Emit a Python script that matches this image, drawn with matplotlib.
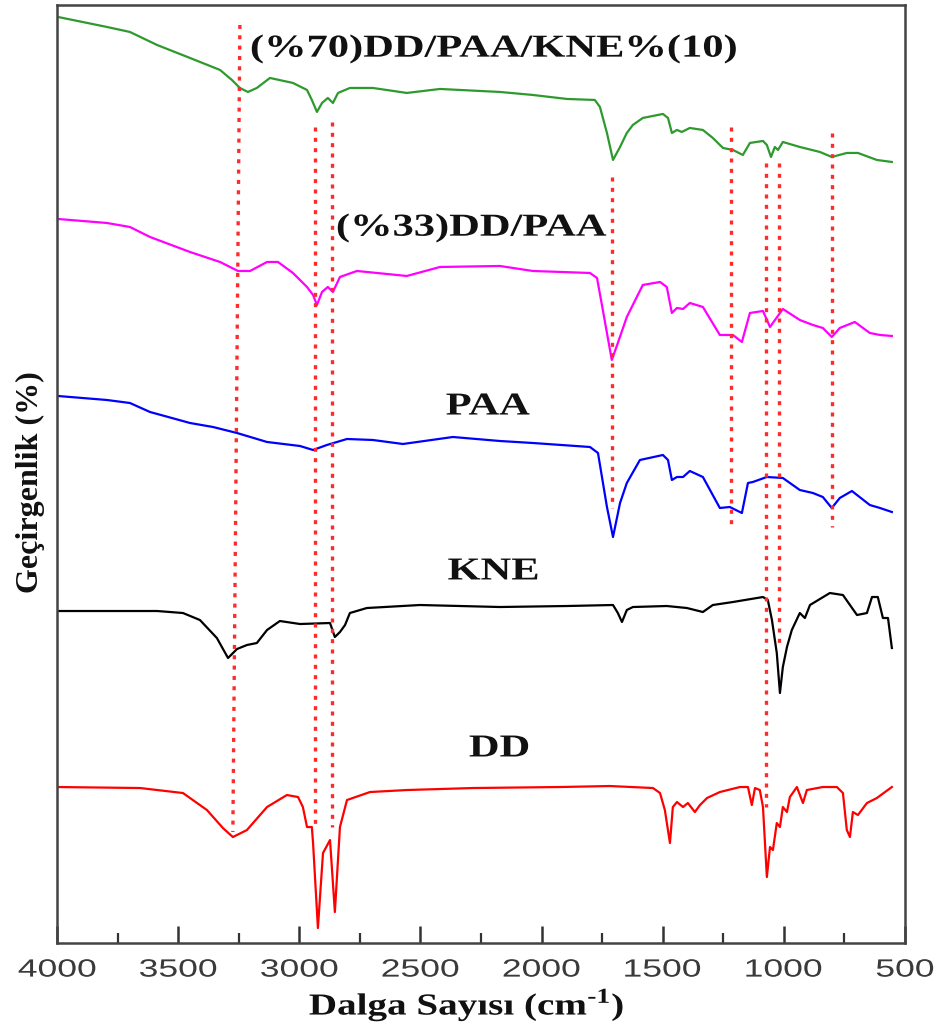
import matplotlib
matplotlib.use('Agg')
import matplotlib.pyplot as plt
from matplotlib.ticker import MultipleLocator
from matplotlib.textpath import TextPath
from matplotlib.patches import PathPatch
from matplotlib.font_manager import FontProperties
from matplotlib.transforms import Affine2D, ScaledTranslation, blended_transform_factory

# Spectres FTIR (nombre d'onde en cm-1, transmittance décalée en u.a.)
wn_dd_paa_kne = [3996, 3794, 3699, 3587, 3451, 3327, 3278, 3245, 3212, 3175, 3121, 3026, 2968, 2948,
                 2927, 2906, 2882, 2861, 2840, 2791, 2696, 2556, 2419, 2172, 2036, 1895, 1780, 1759,
                 1730, 1705, 1676, 1648, 1623, 1582, 1499, 1478, 1462, 1441, 1421, 1388, 1334, 1293,
                 1251, 1210, 1169, 1140, 1086, 1070, 1053, 1037, 1024, 1004, 934, 851, 802, 740, 694,
                 616, 554]
t_dd_paa_kne = [92.6, 91.6, 91.1, 89.8, 88.5, 87.3, 86.3, 85.5, 85.1, 85.5, 86.5, 86.0, 85.3, 84.3,
                83.1, 84.0, 84.5, 84.0, 85.0, 85.5, 85.5, 85.0, 85.4, 85.1, 84.8, 84.4, 84.3, 83.6,
                81.0, 78.3, 79.6, 81.0, 81.8, 82.5, 82.9, 82.5, 81.0, 81.3, 81.1, 81.5, 81.3, 80.5,
                79.5, 79.3, 78.8, 80.0, 80.2, 79.8, 78.6, 79.6, 79.3, 80.1, 79.6, 79.1, 78.6, 79.0, 79.0,
                78.3, 78.1]

wn_dd_paa = [3996, 3794, 3699, 3616, 3451, 3327, 3253, 3203, 3133, 3088, 3026, 2968, 2943, 2927,
             2906, 2882, 2861, 2832, 2762, 2556, 2419, 2172, 2036, 1800, 1771, 1747, 1710, 1685,
             1648, 1582, 1511, 1483, 1462, 1441, 1416, 1388, 1334, 1264, 1210, 1173, 1140, 1086,
             1057, 1004, 934, 880, 839, 802, 769, 707, 645, 603, 554]
t_dd_paa = [72.4, 72.0, 71.6, 70.6, 69.1, 68.1, 67.2, 67.2, 68.1, 68.1, 67.0, 65.6, 64.8, 63.8,
            65.1, 65.6, 65.1, 66.6, 67.2, 66.7, 67.6, 67.7, 67.2, 67.0, 66.5, 63.3, 58.3, 60.0,
            62.6, 65.8, 66.1, 65.6, 63.0, 63.5, 63.4, 64.0, 63.6, 60.8, 60.8, 60.1, 63.0, 63.2,
            61.6, 63.4, 62.3, 61.8, 61.5, 60.6, 61.5, 62.1, 61.0, 60.8, 60.7]

wn_paa = [3996, 3794, 3699, 3616, 3451, 3356, 3257, 3133, 2997, 2943, 2886, 2803, 2696, 2572,
          2366, 2172, 2036, 1800, 1767, 1730, 1705, 1676, 1648, 1594, 1499, 1478, 1462, 1441,
          1416, 1388, 1334, 1264, 1223, 1173, 1148, 1128, 1070, 1004, 934, 880, 839, 802, 769,
          719, 645, 603, 554]
t_paa = [54.7, 54.3, 54.0, 53.1, 52.0, 51.6, 51.0, 50.1, 49.7, 49.3, 49.8, 50.4, 50.3, 49.9,
         50.6, 50.2, 50.0, 49.6, 49.0, 43.6, 40.6, 44.0, 46.0, 48.3, 48.8, 48.3, 46.3, 46.6,
         46.6, 47.2, 46.6, 43.5, 43.6, 43.0, 46.0, 46.1, 46.6, 46.5, 45.3, 45.0, 44.6, 43.5, 44.5,
         45.2, 43.8, 43.5, 43.1]

wn_kne = [3996, 3794, 3587, 3480, 3410, 3340, 3294, 3257, 3216, 3175, 3133, 3080, 2997, 2873,
          2853, 2832, 2811, 2791, 2721, 2502, 2172, 1895, 1705, 1685, 1668, 1648, 1623, 1483,
          1400, 1334, 1293, 1210, 1086, 1066, 1049, 1029, 1016, 1004, 987, 967, 934, 913, 892,
          810, 756, 698, 657, 636, 612, 591, 570, 554]
t_kne = [33.2, 33.2, 33.2, 33.0, 32.3, 30.5, 28.5, 29.4, 29.8, 30.0, 31.3, 32.2, 31.9, 32.0,
         30.6, 31.1, 31.8, 33.0, 33.5, 33.8, 33.6, 33.7, 33.8, 33.0, 32.1, 33.3, 33.6, 33.7,
         33.5, 33.1, 33.8, 34.1, 34.6, 34.3, 32.3, 29.0, 25.0, 27.6, 29.6, 31.3, 33.0, 32.5, 33.8,
         35.0, 34.8, 32.8, 33.0, 34.6, 34.6, 32.5, 32.5, 29.5]

wn_dd = [3996, 3657, 3480, 3381, 3315, 3274, 3216, 3133, 3051, 3005, 2985, 2968, 2948, 2943,
         2923, 2902, 2873, 2853, 2832, 2803, 2708, 2556, 2283, 1924, 1718, 1540, 1511, 1491,
         1470, 1458, 1441, 1416, 1396, 1367, 1346, 1317, 1264, 1181, 1148, 1132, 1119, 1099,
         1086, 1070, 1057, 1045, 1029, 1016, 1004, 987, 975, 946, 921, 905, 839, 781, 756, 740,
         727, 715, 694, 657, 616, 554]
t_dd = [15.6, 15.5, 15.0, 13.3, 11.5, 10.6, 11.3, 13.6, 14.8, 14.6, 13.6, 11.6, 11.6, 10.0,
        1.5, 9.0, 10.3, 3.1, 11.6, 14.3, 15.1, 15.3, 15.5, 15.6, 15.7, 15.5, 15.0, 13.3,
        10.0, 13.6, 14.1, 13.6, 14.0, 13.1, 13.8, 14.5, 15.1, 15.6, 15.6, 13.8, 15.5, 15.3,
        13.6, 6.6, 9.6, 9.3, 12.0, 11.6, 13.6, 13.1, 14.6, 15.6, 14.0, 15.3, 15.6, 15.6, 15.0, 11.3,
        10.6, 13.1, 12.8, 14.0, 14.5, 15.6]

spectres = [
    (wn_dd_paa_kne, t_dd_paa_kne, '#2e9a2e'),
    (wn_dd_paa, t_dd_paa, '#ff00ff'),
    (wn_paa, t_paa, '#0000ff'),
    (wn_kne, t_kne, 'black'),
    (wn_dd, t_dd, '#ff0000'),
]

# Noms des échantillons (centre du texte en nombre d'onde, transmittance)
noms = ['(%70)DD/PAA/KNE%(10)', '(%33)DD/PAA', 'PAA', 'KNE', 'DD']
noms_x = [2197, 2287, 2221, 2201, 2176]
noms_y = [89.4, 71.5, 53.9, 37.4, 19.7]

# Bandes caractéristiques (pointillés rouges) : nombre d'onde haut/bas, transmittance haut/bas
bandes_wn_haut = [3245, 2935, 2865, 1710, 1218, 1074, 1020, 802]
bandes_wn_bas = [3274, 2935, 2865, 1710, 1218, 1074, 1020, 802]
bandes_t_haut = [91.8, 81.6, 82.1, 76.6, 81.6, 78.0, 78.0, 81.0]
bandes_t_bas = [11.1, 11.8, 11.6, 43.5, 41.3, 13.6, 29.6, 41.6]

graduations = [4000, 3500, 3000, 2500, 2000, 1500, 1000, 500]

plt.rcParams['mathtext.fontset'] = 'custom'
plt.rcParams['mathtext.rm'] = 'Liberation Serif:bold'

DPI = 100
fig = plt.figure(figsize=(9.37, 10.32), dpi=DPI)
ax = fig.add_axes([0.0608, 0.0862, 0.905, 0.909])


def texte_etire(x, y, s, taille, etirement, transform, famille='Liberation Serif',
                poids='bold', couleur='#111111'):
    '''
    Ecrit un texte centré en (x, y) et élargi horizontalement d'un facteur etirement.
    '''
    prop = FontProperties(family=famille, weight=poids)
    chemin = TextPath((0, 0), s, size=taille, prop=prop)
    bb = chemin.get_extents()
    cx, cy = (bb.x0 + bb.x1) / 2, (bb.y0 + bb.y1) / 2
    tr = (Affine2D().translate(-cx, -cy).scale(etirement * DPI / 72, DPI / 72)
          + ScaledTranslation(x, y, transform))
    patch = PathPatch(chemin, transform=tr, facecolor=couleur, edgecolor='none', clip_on=False,
                      zorder=5)
    fig.add_artist(patch)


for wn, t, couleur in spectres:
    ax.plot(wn, t, color=couleur, linewidth=1.6, solid_joinstyle='round', zorder=2)

for x0, x1, y0, y1 in zip(bandes_wn_haut, bandes_wn_bas, bandes_t_haut, bandes_t_bas):
    ax.plot([x0, x1], [y0, y1], color='#ff2a2a', linewidth=2.4,
            linestyle=(0, (1.2, 1.9)), zorder=3)

ax.set_xlim(4000, 500)
ax.set_ylim(0, 93.8)
ax.xaxis.set_major_locator(MultipleLocator(500))
ax.xaxis.set_minor_locator(MultipleLocator(250))
ax.tick_params(axis='x', which='major', direction='in', length=12, width=1.8,
               colors='#333333', labelbottom=False)
ax.tick_params(axis='x', which='minor', direction='in', length=7, width=1.6, colors='#333333')
ax.set_yticks([])
for cote in ax.spines.values():
    cote.set_color('#444444')
    cote.set_linewidth(1.8)

# Noms des spectres
for nom, x, y in zip(noms, noms_x, noms_y):
    texte_etire(x, y, nom, 23, 1.33, ax.transData)

# Graduations de l'axe des nombres d'onde
trans_grad = blended_transform_factory(ax.transData, fig.transFigure)
for g in graduations:
    texte_etire(g, 1 - 968 / 1032, str(g), 18, 1.42, trans_grad, famille='Liberation Sans',
                poids='normal', couleur='#3a3a3a')

# Titres des axes
texte_etire(466 / 937, 1 - 1005 / 1032, r'Dalga Sayısı (cm$^{\text{-}1}$)', 22, 1.28,
            fig.transFigure)
fig.text(30 / 937, 1 - 482 / 1032, 'Geçirgenlik (%)', rotation=90, fontsize=23,
         fontweight='bold', family='Liberation Serif', ha='center', va='center', color='#111111')

plt.savefig('out.png', dpi=DPI)
